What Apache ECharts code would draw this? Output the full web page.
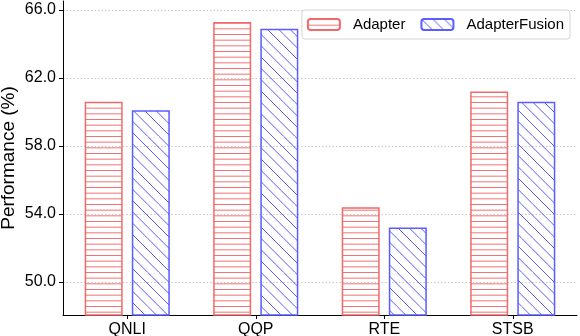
<!DOCTYPE html>
<html>
<head>
<meta charset="utf-8">
<script src="https://cdn.jsdelivr.net/npm/echarts@6/dist/echarts.min.js"></script>
<style>
html,body{margin:0;padding:0;background:#fff;}
#c{width:580px;height:336px;}
</style>
</head>
<body>
<div id="c"></div>
<script>
// ---- data ----
var categories = ['QNLI', 'QQP', 'RTE', 'STSB'];
var seriesNames = ['Adapter', 'AdapterFusion'];
var adapterValues = [60.6, 65.3, 54.4, 61.2];
var fusionValues = [60.1, 64.9, 53.2, 60.6];
var yTicks = [50, 54, 58, 62, 66];

function hPattern(color) {
  var S = 17, N = 3;
  var c = document.createElement('canvas');
  c.width = S; c.height = S;
  var g = c.getContext('2d');
  g.strokeStyle = color; g.lineWidth = 1;
  for (var k = 0; k < N; k++) {
    var y = k * S / N + 0.5;
    g.beginPath(); g.moveTo(0, y); g.lineTo(S, y); g.stroke();
  }
  return c;
}
function dPattern(color) {
  var S = 34, N = 3;
  var c = document.createElement('canvas');
  c.width = S; c.height = S;
  var g = c.getContext('2d');
  g.strokeStyle = color; g.lineWidth = 1;
  for (var k = -N; k <= N; k++) {
    var x0 = k * S / N;
    g.beginPath(); g.moveTo(x0, 0); g.lineTo(x0 + S, S); g.stroke();
  }
  return c;
}

var redEdge = '#f06a6a';
var blueEdge = '#5c5cff';

var chart = echarts.init(document.getElementById('c'), null, {renderer: 'canvas'});
var FONT = 'Liberation Sans, Arial, Helvetica, sans-serif';

chart.setOption({
  animation: false,
  grid: {left: 63, right: 3, top: 1, bottom: 21, containLabel: false, outerBoundsMode: 'none'},
  legend: {
    right: 10, top: 10,
    orient: 'horizontal',
    data: seriesNames,
    itemWidth: 32, itemHeight: 11, itemGap: 15,
    padding: [7, 6, 7, 5],
    borderColor: '#d4d4d4', borderWidth: 1, borderRadius: 3,
    backgroundColor: 'rgba(255,255,255,0.85)',
    textStyle: {fontFamily: FONT, fontSize: 15, color: '#000', padding: [0, 0, 0, 8]}
  },
  xAxis: {
    type: 'category',
    data: categories,
    boundaryGap: true,
    axisLine: {show: true, onZero: false, lineStyle: {color: '#000', width: 1}},
    axisTick: {show: true, length: 4, alignWithLabel: true, lineStyle: {color: '#000'}},
    axisLabel: {fontFamily: FONT, fontSize: 16, color: '#000', margin: 7, interval: 0},
    splitLine: {show: false}
  },
  yAxis: {
    type: 'value',
    min: 48.06, max: 66.53,
    name: 'Performance (%)',
    nameLocation: 'middle',
    nameGap: 45,
    nameMoveOverlap: false,
    nameTextStyle: {fontFamily: FONT, fontSize: 19, color: '#000'},
    axisLine: {show: true, onZero: false, lineStyle: {color: '#000', width: 1}},
    axisTick: {show: true, length: 4, customValues: yTicks, lineStyle: {color: '#000'}},
    axisLabel: {
      customValues: yTicks,
      fontFamily: FONT, fontSize: 16, color: '#000', margin: 7,
      formatter: function (v) { return v.toFixed(1); }
    },
    splitLine: {show: true, lineStyle: {color: '#c8c8c8', width: 1, type: [1.5, 2]}}
  },
  series: [
    {
      name: seriesNames[0], type: 'bar',
      data: adapterValues,
      barWidth: 38, barGap: '24%',
      itemStyle: {
        color: {image: hPattern('rgba(240,90,90,0.85)'), repeat: 'repeat'},
        borderColor: redEdge, borderWidth: 1.5
      }
    },
    {
      name: seriesNames[1], type: 'bar',
      data: fusionValues,
      barWidth: 38, barGap: '24%',
      itemStyle: {
        color: {image: dPattern('rgba(80,80,255,0.95)'), repeat: 'repeat'},
        borderColor: blueEdge, borderWidth: 1.5
      }
    }
  ]
});
</script>
</body>
</html>
